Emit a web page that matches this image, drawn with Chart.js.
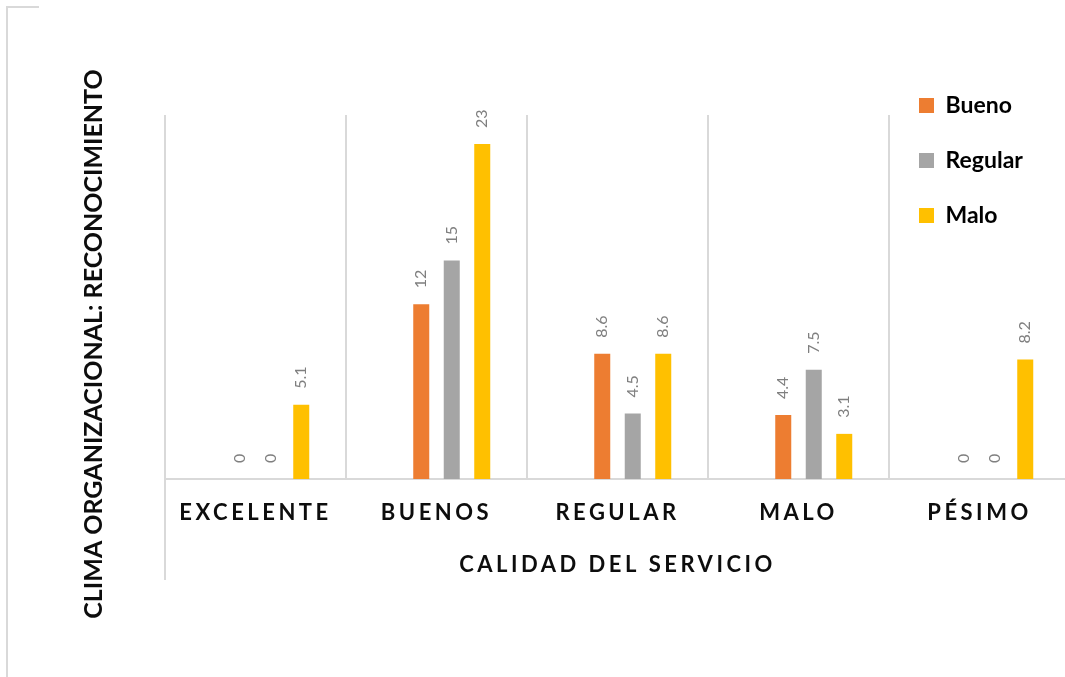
<!DOCTYPE html>
<html>
<head>
<meta charset="utf-8">
<title>Clima organizacional y calidad del servicio</title>
<script src="https://cdn.jsdelivr.net/npm/chart.js@4.4.1/dist/chart.umd.min.js"></script>
<style>
  html, body { margin: 0; padding: 0; background: #ffffff; overflow: hidden; }
  #wrap { position: relative; width: 1080px; height: 677px; }
  #chart { display: block; }
  .frame-left { position: absolute; left: 6px; top: 6px; width: 0; height: 671px; border-left: 2px solid #d9d9d9; }
  .frame-top { position: absolute; left: 6px; top: 6px; width: 33px; height: 0; border-top: 2px solid #d9d9d9; }
</style>
</head>
<body>
<div id="wrap">
  <canvas id="chart" width="1080" height="677"></canvas>
  <div class="frame-left"></div>
  <div class="frame-top"></div>
</div>
<script>
// Categories (service quality) and the three series (organizational climate)
const categories = ['EXCELENTE', 'BUENOS', 'REGULAR', 'MALO', 'PÉSIMO'];
const seriesNames = ['Bueno', 'Regular', 'Malo'];
const seriesColors = ['#ED7D31', '#A5A5A5', '#FFC000'];
const bueno   = [0, 12, 8.6, 4.4, 0];
const regular = [0, 15, 4.5, 7.5, 0];
const malo    = [5.1, 23, 8.6, 3.1, 8.2];
// unused leading slot in each group (kept empty, no legend entry)
const emptySlot = [null, null, null, null, null];
const yMax = 25;

const xTitle = 'CALIDAD DEL SERVICIO';
const yTitle = 'CLIMA ORGANIZACIONAL: RECONOCIMIENTO';

const FONT = 'Lato';
const TEXT = '#0d0d0d';
const GRID = '#d9d9d9';

// Rotated value labels above every bar
const valueLabels = {
  id: 'valueLabels',
  afterDatasetsDraw(chart) {
    const ctx = chart.ctx;
    ctx.save();
    ctx.font = '400 16px ' + FONT;
    ctx.fillStyle = '#7f7f7f';
    ctx.textAlign = 'left';
    ctx.textBaseline = 'middle';
    chart.data.datasets.forEach((ds, di) => {
      const meta = chart.getDatasetMeta(di);
      meta.data.forEach((bar, i) => {
        const v = ds.data[i];
        if (v === null || v === undefined) return;
        ctx.save();
        ctx.translate(bar.x, bar.y - 16);
        ctx.rotate(-Math.PI / 2);
        ctx.fillText(String(v), 0, 0);
        ctx.restore();
      });
    });
    ctx.restore();
  }
};

// Letter-spaced category labels and axis title on the x axis
const spacedAxisText = {
  id: 'spacedAxisText',
  afterLayout(chart) {
    const s = chart.scales.x;
    if (!s || s._spaced) return;
    s._spaced = true;
    const wrap = fn => function (...args) {
      const c = this.ctx;
      c.save();
      c.letterSpacing = '3.5px';
      fn.apply(this, args);
      c.restore();
    };
    s.drawLabels = wrap(s.drawLabels);
    s.drawTitle = wrap(s.drawTitle);
  }
};

// Legend floats over the top-right of the plot; the vertical title is
// centred on the whole figure instead of the plot height
const boxPlacement = {
  id: 'boxPlacement',
  afterLayout(chart) {
    const a = chart.chartArea;
    const lg = chart.legend;
    if (lg) {
      lg.left = a.left + 722;
      lg.top = a.top - 53;
      lg.right = lg.left + lg.width;
      lg.bottom = lg.top + 300;
    }
    const tb = chart.titleBlock;
    if (tb) {
      tb.top = 30;
      tb.bottom = 658;
    }
  }
};

const datasets = [
  { label: '', data: emptySlot, backgroundColor: 'rgba(0,0,0,0)' },
  { label: seriesNames[0], data: bueno, backgroundColor: seriesColors[0] },
  { label: seriesNames[1], data: regular, backgroundColor: seriesColors[1] },
  { label: seriesNames[2], data: malo, backgroundColor: seriesColors[2] }
].map(d => Object.assign(d, { categoryPercentage: 0.674, barPercentage: 0.525, borderWidth: 0 }));

new Chart(document.getElementById('chart'), {
  type: 'bar',
  data: { labels: categories, datasets },
  plugins: [spacedAxisText, boxPlacement, valueLabels],
  options: {
    responsive: false,
    animation: false,
    devicePixelRatio: 1,
    layout: { padding: { top: 115, bottom: 97, left: 10, right: 10 } },
    plugins: {
      tooltip: { enabled: false },
      title: {
        display: true,
        position: 'left',
        text: yTitle,
        color: TEXT,
        font: { family: FONT, size: 25, weight: 'bold', lineHeight: 1.2 },
        padding: { top: 69, bottom: 56 }
      },
      legend: {
        display: true,
        position: 'chartArea',
        align: 'start',
        labels: {
          filter: item => item.text !== '',
          color: '#000000',
          font: { family: FONT, size: 23, weight: 'bold' },
          boxWidth: 15,
          boxHeight: 15,
          padding: 32
        }
      }
    },
    scales: {
      x: {
        grid: {
          display: true,
          offset: true,
          color: GRID,
          lineWidth: 2,
          drawTicks: true,
          tickLength: 101,
          tickWidth: 2,
          tickColor: ctx => (ctx.index === 0 ? GRID : 'rgba(0,0,0,0)')
        },
        border: { display: true, color: GRID, width: 2 },
        ticks: {
          color: TEXT,
          font: { family: FONT, size: 22, weight: 'bold', lineHeight: 1.2 },
          padding: -80,
          maxRotation: 0,
          autoSkip: false
        },
        title: {
          display: true,
          text: xTitle,
          color: TEXT,
          font: { family: FONT, size: 22, weight: 'bold', lineHeight: 1.2 },
          padding: { top: 0, bottom: 2 }
        },
        afterFit(scale) { scale.height = 101; }
      },
      y: {
        display: false,
        min: 0,
        max: yMax
      }
    }
  }
});
</script>
</body>
</html>
